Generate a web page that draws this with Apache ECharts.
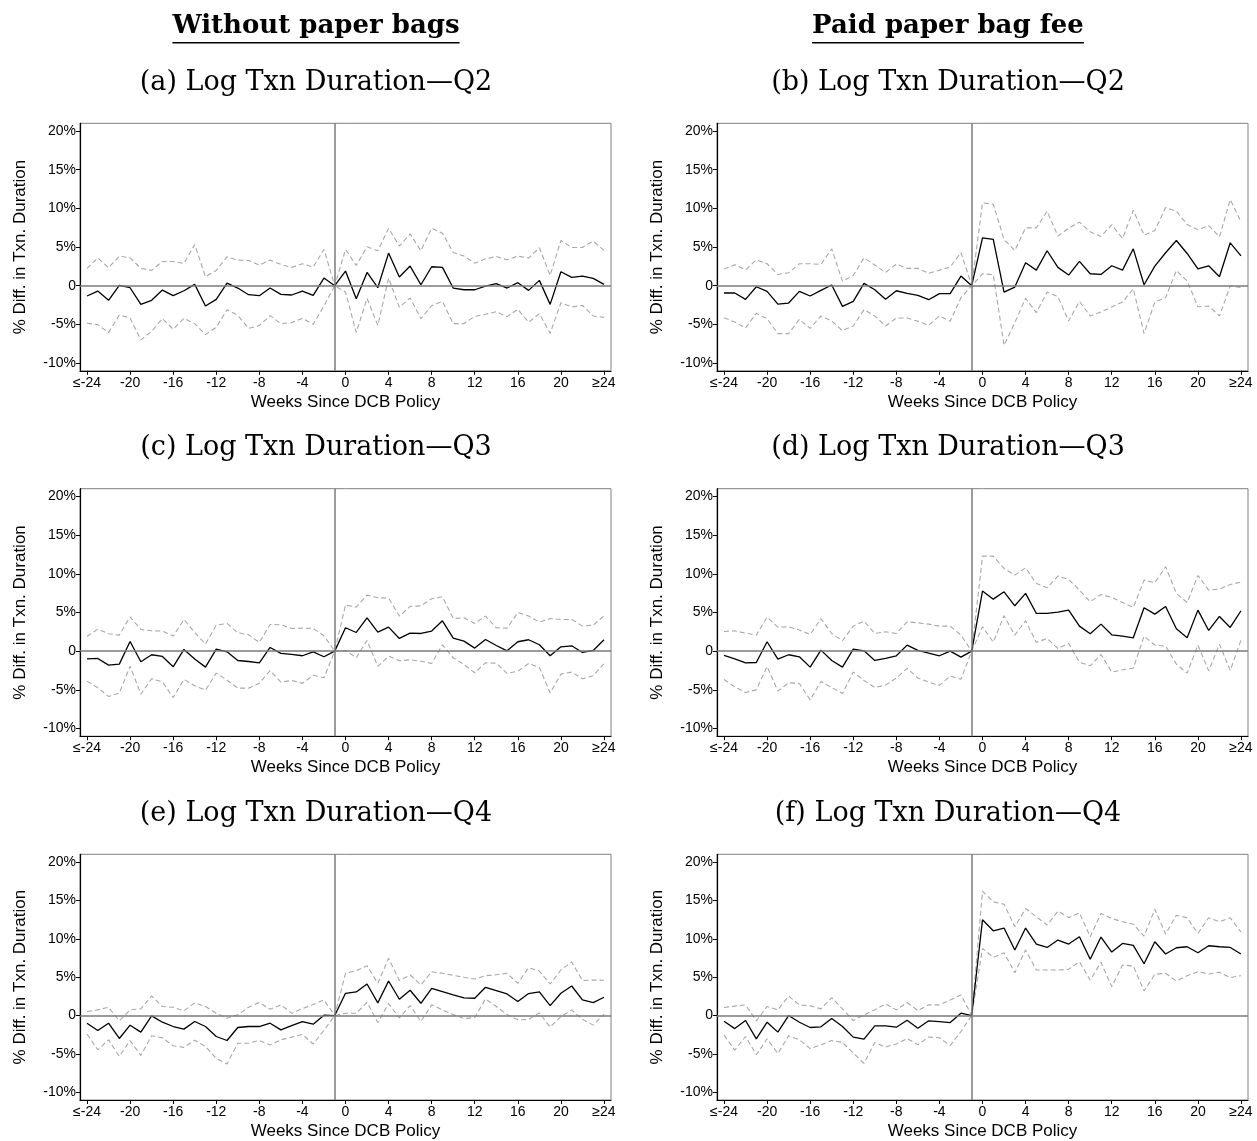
<!DOCTYPE html>
<html><head><meta charset="utf-8">
<script src="https://cdn.jsdelivr.net/npm/echarts@6/dist/echarts.min.js"></script>
<style>html,body{margin:0;padding:0;background:#fff;} #chart{width:1257px;height:1141px;}</style>
</head><body><div id="chart"></div>
<script>
// ---------------- data ----------------
const weeks = [-24,-23,-22,-21,-20,-19,-18,-17,-16,-15,-14,-13,-12,-11,-10,-9,-8,-7,-6,-5,-4,-3,-2,-1,0,1,2,3,4,5,6,7,8,9,10,11,12,13,14,15,16,17,18,19,20,21,22,23,24];
const xTickValues = [-24,-20,-16,-12,-8,-4,0,4,8,12,16,20,24];
const yTickValues = [-10,-5,0,5,10,15,20];
const columnTitles = ['Without paper bags', 'Paid paper bag fee'];
const panelTitles = ['(a) Log Txn Duration\u2014Q2','(b) Log Txn Duration\u2014Q2','(c) Log Txn Duration\u2014Q3','(d) Log Txn Duration\u2014Q3','(e) Log Txn Duration\u2014Q4','(f) Log Txn Duration\u2014Q4'];
const xAxisTitle = 'Weeks Since DCB Policy';
const yAxisTitle = '% Diff. in Txn. Duration';

// (a)
const aPoint = [-1.33,-0.69,-1.89,0.04,-0.26,-2.41,-1.89,-0.56,-1.29,-0.65,0.17,-2.62,-1.76,0.34,-0.30,-1.16,-1.29,-0.30,-1.12,-1.20,-0.69,-1.25,0.99,0,
  1.89,-1.68,1.72,-0.26,4.22,1.12,2.54,0.13,2.45,2.37,-0.30,-0.52,-0.52,-0.04,0.26,-0.30,0.39,-0.60,0.69,-2.41,1.81,1.08,1.25,0.95,0.17];
const aUpper = [2.24,3.61,2.32,3.83,3.61,2.24,1.98,3.14,3.14,2.88,5.33,1.16,1.98,3.74,3.31,3.27,2.67,3.31,2.75,2.37,2.84,2.41,4.69,0,
  4.69,2.62,5.03,4.52,7.44,5.12,6.71,4.52,7.44,6.80,4.30,3.83,2.92,3.48,3.78,3.35,3.83,3.57,4.90,1.33,5.85,4.95,4.95,5.76,4.56];
const aLower = [-4.86,-5.03,-6.06,-3.78,-4.17,-7.01,-5.89,-4.26,-5.63,-4.22,-4.90,-6.32,-5.38,-3.10,-3.83,-5.51,-5.16,-3.87,-4.90,-4.77,-4.22,-4.99,-2.62,0,
  -0.82,-6.06,-1.63,-5.12,0.99,-2.80,-1.59,-4.26,-2.58,-2.02,-4.90,-4.90,-3.96,-3.70,-3.35,-4.00,-3.05,-4.73,-3.61,-6.15,-2.19,-2.75,-2.54,-3.91,-4.09];
// (b)
const bPoint = [-0.94,-0.94,-1.76,-0.13,-0.73,-2.37,-2.24,-0.73,-1.33,-0.60,0.09,-2.67,-2.02,0.30,-0.52,-1.76,-0.65,-0.99,-1.25,-1.81,-1.03,-1.03,1.25,0,
  6.19,5.98,-0.82,-0.17,2.97,2.02,4.52,2.37,1.38,3.14,1.55,1.46,2.58,2.02,4.77,0.13,2.54,4.26,5.85,4.17,2.19,2.58,1.16,5.55,3.87];
const bUpper = [2.16,2.72,2.05,3.35,2.84,1.46,1.68,2.84,2.84,2.75,4.77,0.56,1.33,3.61,2.67,1.72,2.80,2.24,2.24,1.59,2.02,2.41,4.30,0,
  10.71,10.54,5.98,4.56,7.48,7.48,9.63,6.41,7.44,8.22,6.97,6.37,7.87,6.11,9.76,6.54,7.14,10.11,9.63,7.91,7.23,7.78,6.32,11.14,8.26];
const bLower = [-4.13,-4.69,-5.46,-3.57,-4.26,-6.19,-6.19,-4.34,-5.51,-3.91,-4.56,-5.81,-5.20,-3.10,-3.91,-5.20,-4.17,-4.17,-4.60,-5.12,-3.91,-4.60,-1.55,0,
  1.55,1.42,-7.70,-4.77,-1.63,-3.48,-0.82,-1.42,-4.56,-2.02,-3.91,-3.40,-2.75,-2.11,-0.39,-6.19,-2.11,-1.55,1.98,0.60,-2.71,-2.62,-3.91,-0.04,-0.22];
// (c)
const cPoint = [-0.99,-0.95,-1.81,-1.68,1.25,-1.38,-0.47,-0.69,-2.03,0.22,-1.03,-2.07,0.26,-0.09,-1.21,-1.34,-1.51,0.47,-0.30,-0.43,-0.60,-0.09,-0.73,0,
  3.02,2.41,4.31,2.46,3.10,1.64,2.33,2.28,2.59,3.92,1.68,1.29,0.39,1.51,0.73,0.04,1.21,1.47,0.82,-0.60,0.56,0.69,-0.17,0.09,1.47];
const cUpper = [1.90,2.84,2.24,2.07,4.44,2.80,2.63,2.59,1.94,4.09,2.41,0.91,3.36,3.58,2.37,2.11,1.12,3.45,3.41,2.93,2.97,2.93,1.98,0,
  5.95,5.69,7.24,6.90,6.85,4.53,5.78,5.86,6.77,7.03,4.22,4.31,3.58,4.53,3.02,2.97,5.00,4.53,3.75,4.22,4.09,4.09,3.23,3.36,4.57];
const cLower = [-3.88,-4.74,-5.86,-5.43,-1.94,-5.56,-3.57,-3.97,-6.00,-3.65,-4.47,-5.05,-2.84,-3.76,-4.79,-4.79,-4.14,-2.51,-4.01,-3.79,-4.17,-3.11,-3.44,0,
  0.09,-0.87,1.38,-1.98,-0.65,-1.25,-1.12,-1.30,-1.59,0.81,-0.86,-1.73,-2.80,-1.51,-1.56,-2.89,-2.58,-1.59,-2.11,-5.42,-2.97,-2.71,-3.57,-3.18,-1.63];
// (d)
const dPoint = [-0.56,-1.00,-1.51,-1.47,1.21,-1.03,-0.47,-0.73,-2.07,0.13,-1.21,-2.07,0.26,0.04,-1.21,-0.95,-0.60,0.78,0.09,-0.26,-0.60,0,-0.78,0,
  7.76,6.72,7.67,5.86,7.46,4.87,4.87,5.04,5.30,3.23,2.24,3.49,2.11,1.94,1.72,5.60,4.78,5.78,2.89,1.72,5.30,2.67,4.48,3.06,5.22];
const dUpper = [2.54,2.63,2.33,2.07,4.40,3.10,3.15,2.72,2.16,4.18,2.28,1.34,3.23,3.88,2.28,2.50,2.28,3.79,3.66,3.49,3.23,3.23,2.07,0,
  12.28,12.28,10.69,9.83,10.78,8.75,8.19,9.70,9.27,7.89,6.38,7.33,6.94,6.29,5.65,9.18,8.84,10.91,7.46,6.29,9.78,7.89,8.02,8.62,8.92];
const dLower = [-3.66,-4.63,-5.35,-5.01,-1.98,-5.16,-4.09,-4.18,-6.30,-3.92,-4.70,-5.48,-2.71,-3.80,-4.70,-4.40,-3.48,-2.23,-3.48,-4.01,-4.43,-3.23,-3.63,0,
  3.15,1.16,4.57,2.07,3.92,1.12,1.64,0.34,0.99,-1.43,-1.90,-0.43,-2.72,-2.41,-2.21,1.94,0.78,0.65,-1.68,-2.85,0.78,-2.55,0.90,-2.50,1.42];
// (e)
const ePoint = [-1.00,-1.95,-1.00,-2.99,-1.26,-2.16,-0.04,-0.87,-1.43,-1.77,-0.78,-1.43,-2.73,-3.25,-1.56,-1.43,-1.43,-1.00,-1.86,-1.30,-0.78,-1.13,0.05,0,
  2.90,3.07,4.11,1.65,4.50,2.12,3.29,1.60,3.55,3.12,2.68,2.29,2.25,3.68,3.25,2.81,1.82,2.86,3.07,1.30,2.90,3.85,2.03,1.69,2.38];
const eUpper = [0.52,0.74,1.08,-0.69,0.74,0.87,2.55,1.17,1.08,0.61,1.65,1.17,0.30,-0.35,0.09,1.08,1.69,0.82,1.39,0.30,0.90,1.45,2.03,0,
  5.50,5.84,6.49,4.20,7.45,4.55,5.28,3.98,5.71,5.50,5.24,4.98,4.76,5.19,5.32,5.50,4.20,6.23,5.80,4.11,5.93,6.97,4.55,4.63,4.59];
const eLower = [-2.42,-4.46,-3.16,-5.32,-3.26,-5.19,-2.63,-2.91,-3.94,-4.15,-3.21,-4.03,-5.60,-6.30,-3.60,-3.60,-3.25,-3.85,-3.16,-2.81,-2.46,-3.71,-1.93,0,
  0.30,0.30,1.73,-0.90,1.55,-0.31,1.30,-0.78,1.39,0.74,0.12,-0.40,-0.26,2.17,1.18,0.12,-0.56,-0.51,0.34,-1.51,-0.13,0.73,-0.49,-1.25,0.17];
// (f)
const fPoint = [-0.75,-1.70,-0.65,-3.03,-0.87,-2.16,0,-0.87,-1.56,-1.47,-0.39,-1.43,-2.81,-3.07,-1.34,-1.34,-1.52,-0.61,-1.65,-0.69,-0.78,-0.91,0.30,0,
  12.47,11.04,11.39,8.53,11.39,9.31,8.87,9.83,9.31,10.26,7.32,10.22,8.27,9.39,9.13,6.75,9.61,8.01,8.83,8.96,8.18,9.09,8.96,8.87,8.01];
const fUpper = [1.04,1.23,1.39,-0.69,1.17,0.74,2.55,1.39,1.26,0.87,2.34,0.87,-0.65,0.09,0.74,1.52,0.74,1.69,0.65,1.39,1.39,2.03,2.68,0,
  16.19,14.81,14.50,11.56,13.94,12.86,11.77,13.59,12.77,13.38,10.26,13.29,12.64,12.21,11.90,10.35,13.85,10.61,13.07,12.73,10.69,12.73,12.21,12.73,10.87];
const fLower = [-2.55,-4.50,-2.73,-5.10,-3.03,-4.95,-2.64,-3.16,-4.30,-3.81,-3.25,-3.50,-4.90,-6.23,-3.50,-4.10,-3.70,-3.00,-3.80,-2.80,-2.90,-3.90,-2.08,0,
  8.74,7.58,8.18,5.58,8.53,5.93,5.93,5.93,6.02,7.01,4.63,6.93,3.77,6.58,6.45,3.20,5.37,5.50,4.50,5.19,5.71,5.41,5.63,4.94,5.19];

const panels = [
  {point: aPoint, upper: aUpper, lower: aLower},
  {point: bPoint, upper: bUpper, lower: bLower},
  {point: cPoint, upper: cUpper, lower: cLower},
  {point: dPoint, upper: dUpper, lower: dLower},
  {point: ePoint, upper: eUpper, lower: eLower},
  {point: fPoint, upper: fUpper, lower: fLower}
];

// ---------------- layout ----------------
const colLeft = [80, 717];
const colCenter = [316, 948];
const gridW = 531;
const rowTop = [123.3, 488.7, 854.3];
const gridH = 247.5;
const sansFont = '"Liberation Sans", Arial, Helvetica, sans-serif';
const serifFont = '"DejaVu Serif", serif';

const chart = echarts.init(document.getElementById('chart'), null, {renderer: 'canvas'});

const grids = [], xAxes = [], yAxes = [], series = [];
panels.forEach((p, i) => {
  const col = i % 2, row = Math.floor(i / 2);
  grids.push({left: colLeft[col], top: rowTop[row], width: gridW, height: gridH,
    show: true, borderColor: '#808080', borderWidth: 1, backgroundColor: 'rgba(0,0,0,0)'});
  xAxes.push({
    gridIndex: i, type: 'value', min: -24.65, max: 24.65,
    name: xAxisTitle, nameLocation: 'middle', nameGap: 23,
    nameTextStyle: {fontFamily: sansFont, fontSize: 17, color: '#000'},
    axisLine: {show: true, onZero: false, lineStyle: {color: '#000', width: 1.2}},
    axisTick: {show: true, customValues: xTickValues, length: 4, lineStyle: {color: '#000', width: 1}},
    axisLabel: {customValues: xTickValues, fontFamily: sansFont, fontSize: 14, color: '#000', margin: 5,
      formatter: v => v === -24 ? '\u2264-24' : (v === 24 ? '\u226524' : String(v))},
    splitLine: {show: false}
  });
  yAxes.push({
    gridIndex: i, type: 'value', min: -11, max: 21,
    name: yAxisTitle, nameLocation: 'middle', nameGap: 51, nameRotate: 90,
    nameTextStyle: {fontFamily: sansFont, fontSize: 17, color: '#000'},
    axisLine: {show: true, onZero: false, lineStyle: {color: '#000', width: 1.2}},
    axisTick: {show: true, customValues: yTickValues, length: 4, lineStyle: {color: '#000', width: 1}},
    axisLabel: {customValues: yTickValues, fontFamily: sansFont, fontSize: 14, color: '#000', margin: 4,
      formatter: v => v === 0 ? '0' : v + '%'},
    splitLine: {show: false}
  });
  const toXY = arr => weeks.map((w, k) => [w, arr[k]]);
  const dashStyle = {color: '#a8a8a8', width: 1.1, type: [5, 3]};
  series.push({type: 'line', xAxisIndex: i, yAxisIndex: i, data: toXY(p.lower), showSymbol: false,
    lineStyle: dashStyle, silent: true, z: 2});
  series.push({type: 'line', xAxisIndex: i, yAxisIndex: i, data: toXY(p.upper), showSymbol: false,
    lineStyle: dashStyle, silent: true, z: 2});
  series.push({type: 'line', xAxisIndex: i, yAxisIndex: i, data: toXY(p.point), showSymbol: false,
    lineStyle: {color: '#000', width: 1.3}, silent: true, z: 3,
    markLine: {silent: true, symbol: ['none', 'none'], label: {show: false},
      lineStyle: {color: '#7a7a7a', width: 1.5, type: 'solid'},
      data: [{yAxis: 0}, {xAxis: -1}]}});
});

// titles
const measure = (text, font) => {
  const c = document.createElement('canvas').getContext('2d');
  c.font = font; return c.measureText(text).width;
};
const graphics = [];
columnTitles.forEach((t, col) => {
  graphics.push({type: 'text', x: colCenter[col], y: 26,
    style: {text: t, font: 'bold 26px ' + serifFont, fill: '#000', textAlign: 'center', textVerticalAlign: 'middle'}});
  const w = measure(t, 'bold 26px ' + serifFont);
  graphics.push({type: 'line', shape: {x1: colCenter[col] - w / 2, y1: 42.7, x2: colCenter[col] + w / 2, y2: 42.7},
    style: {stroke: '#000', lineWidth: 1.5}});
});
panelTitles.forEach((t, i) => {
  const col = i % 2, row = Math.floor(i / 2);
  graphics.push({type: 'text', x: colCenter[col], y: rowTop[row] - 40.5,
    style: {text: t, font: '27px ' + serifFont, fill: '#000', textAlign: 'center', textVerticalAlign: 'middle'}});
});

chart.setOption({
  animation: false,
  backgroundColor: '#fff',
  grid: grids, xAxis: xAxes, yAxis: yAxes, series: series,
  graphic: graphics
});
</script></body></html>
